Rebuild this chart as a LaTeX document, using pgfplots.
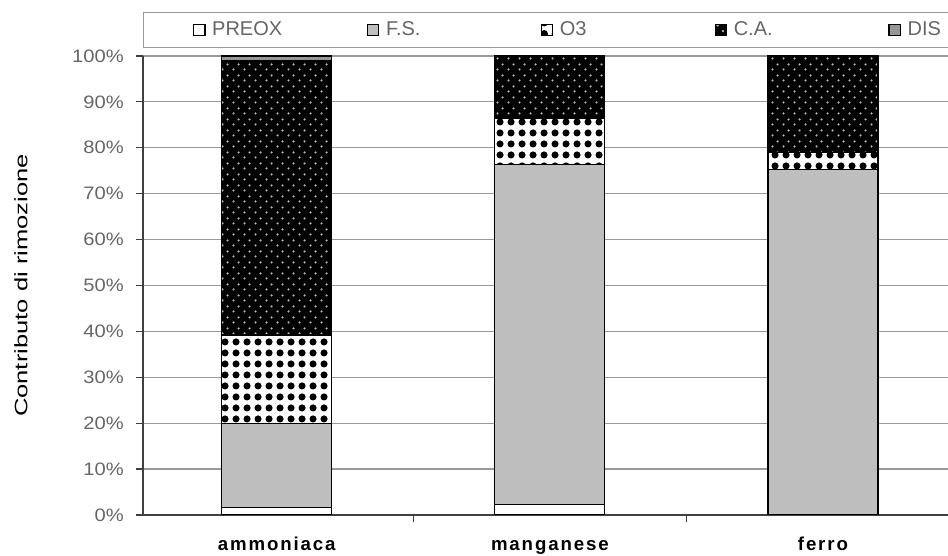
\documentclass[border=0pt]{standalone}
\usepackage{fontspec}
\setmainfont{Liberation Sans}
\newfontfamily\catfont[LetterSpace=10]{Liberation Sans}
\usepackage{pgfplots}
\pgfplotsset{compat=1.18}
\usetikzlibrary{patterns}
\pgfdeclarepatternformonly{bigdots}{\pgfqpoint{0pt}{0pt}}{\pgfqpoint{8.25pt}{8.25pt}}{\pgfqpoint{8.25pt}{8.25pt}}{\pgfpathcircle{\pgfqpoint{4.125pt}{4.125pt}}{2.9pt}\pgfusepath{fill}}
\pgfdeclarepatternformonly{smalldots}{\pgfqpoint{0pt}{0pt}}{\pgfqpoint{8.25pt}{8.25pt}}{\pgfqpoint{8.25pt}{8.25pt}}{\pgfpathcircle{\pgfqpoint{2.06pt}{2.06pt}}{1pt}\pgfusepath{fill}\pgfpathcircle{\pgfqpoint{6.19pt}{6.19pt}}{1pt}\pgfusepath{fill}}
\definecolor{fsgray}{RGB}{190,190,190}
\definecolor{disgray}{RGB}{150,150,150}
\pgfplotsset{sq/.style={legend image code/.code={\draw[##1, line width=0.9pt] (0pt,-4.25pt) rectangle (8.5pt,4.25pt);}}}
\begin{document}
\begin{tikzpicture}
\begin{axis}[
 scale only axis, width=603.75pt, height=344.25pt,
 ybar stacked, bar width=0.403,
 xmin=-0.49, xmax=2.458, ymin=0, ymax=100,
 axis x line*=bottom, axis y line*=left,
 axis line style={draw=black!75, line width=0.9pt},
 xtick={0,1,2}, xticklabels={ammoniaca,manganese,ferro},
 minor xtick={0.5,1.5},
 ytick={0,10,20,30,40,50,60,70,80,90,100},
 yticklabels={0\%,10\%,20\%,30\%,40\%,50\%,60\%,70\%,80\%,90\%,100\%},
 tick align=outside, major tick length=5pt, minor tick length=5pt,
 tick style={draw=black!75, line width=0.9pt},
 every major x tick/.append style={draw=none},
 ymajorgrids, grid style={draw=gray!80, line width=0.9pt},
 yticklabel style={font=\fontsize{13.5}{15}\selectfont, text=black!60, xshift=-5.5pt, xscale=1.12},
 xticklabel style={font=\catfont\bfseries\fontsize{14}{16}\selectfont, anchor=base, yshift=-22pt},
 ylabel={\scalebox{1.42}[1]{Contributo di rimozione}},
 ylabel style={font=\fontsize{13.5}{15}\selectfont, at={(axis description cs:-0.1516,0.5)}, anchor=center},
 legend columns=5,
 legend style={at={(axis description cs:0,1)}, anchor=south west, yshift=6pt, draw=gray!80, line width=1pt, inner xsep=37pt, inner ysep=6.5pt, column sep=0pt, font=\fontsize{15}{17}\selectfont, text=black!60, nodes={text width=111pt, inner xsep=5pt, inner ysep=0pt, text height=11pt, text depth=2pt, align=left}},
]
\addplot[sq, fill=white, draw=black, line width=0.9pt] coordinates {(0,1.7) (1,2.2) (2,0)};
\addplot[sq, fill=fsgray, draw=black, line width=0.9pt] coordinates {(0,18.3) (1,74.1) (2,75.2)};
\addplot[sq, preaction={fill=white}, pattern=bigdots, pattern color=black, draw=black, line width=0.9pt] coordinates {(0,19.2) (1,10.2) (2,3.7)};
\addplot[sq, preaction={fill=black}, pattern=smalldots, pattern color=gray!55, draw=black, line width=0.9pt] coordinates {(0,59.7) (1,13.5) (2,21.1)};
\addplot[sq, fill=disgray, draw=black, line width=0.9pt] coordinates {(0,1.1) (1,0) (2,0)};
\legend{PREOX,F.S.,O3,C.A.,DIS}
\coordinate (A) at (rel axis cs:0,0);
\coordinate (B) at (rel axis cs:1,1);
\end{axis}
\pgfresetboundingbox
\path[use as bounding box] ([shift={(-107.25pt,-30.75pt)}]A) rectangle ([shift={(0pt,42pt)}]B);
\end{tikzpicture}
\end{document}
